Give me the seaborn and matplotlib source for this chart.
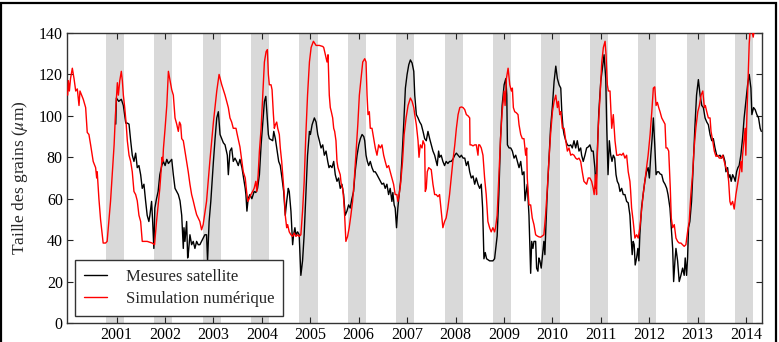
import matplotlib
matplotlib.use("Agg")
import matplotlib.pyplot as plt
import matplotlib.patches as mpatches
import seaborn as sns
import pandas as pd

# ---------------- data (decimal years, grain size in micrometres) ----------------
sim_t = [
    1999.990, 2000.004, 2000.025, 2000.049, 2000.086, 2000.121, 2000.156, 2000.189, 2000.224, 2000.244,
    2000.279, 2000.312, 2000.361, 2000.394, 2000.429, 2000.464, 2000.517, 2000.567, 2000.589, 2000.600,
    2000.635, 2000.669, 2000.723, 2000.772, 2000.805, 2000.875,
    2000.949, 2000.975, 2000.996, 2001.016, 2001.037, 2001.066, 2001.098, 2001.119, 2001.140, 2001.168,
    2001.195, 2001.222, 2001.257, 2001.291, 2001.324, 2001.359, 2001.394, 2001.427, 2001.462, 2001.497,
    2001.530, 2001.632, 2001.735, 2001.784, 2001.825, 2001.893,
    2001.940, 2001.955, 2001.967, 2002.002, 2002.037, 2002.070, 2002.104, 2002.139, 2002.172, 2002.207,
    2002.242, 2002.275, 2002.300, 2002.324, 2002.345, 2002.378, 2002.412, 2002.447, 2002.480, 2002.515,
    2002.550, 2002.583, 2002.618, 2002.653, 2002.686, 2002.720, 2002.755, 2002.788, 2002.858, 2002.926,
    2003.000, 2003.069, 2003.117, 2003.172, 2003.205, 2003.240, 2003.308, 2003.342, 2003.377, 2003.410,
    2003.466, 2003.492, 2003.548, 2003.589, 2003.616, 2003.657, 2003.685, 2003.712, 2003.739, 2003.774,
    2003.809, 2003.841, 2003.876, 2003.897, 2003.924,
    2003.950, 2003.985, 2004.020, 2004.053, 2004.088, 2004.114, 2004.135, 2004.155, 2004.190, 2004.211,
    2004.238, 2004.258, 2004.279, 2004.307, 2004.328, 2004.361, 2004.381, 2004.410, 2004.431, 2004.463,
    2004.484, 2004.513, 2004.533, 2004.566, 2004.601, 2004.636, 2004.669, 2004.704, 2004.739, 2004.771,
    2004.806, 2004.841, 2004.874, 2004.909, 2004.944,
    2004.983, 2005.018, 2005.065, 2005.120, 2005.188, 2005.258, 2005.278, 2005.311, 2005.346, 2005.367,
    2005.393, 2005.414, 2005.435, 2005.463, 2005.484, 2005.504, 2005.531, 2005.552, 2005.572, 2005.599,
    2005.619, 2005.640, 2005.669, 2005.689, 2005.710, 2005.736, 2005.771, 2005.804, 2005.839, 2005.874,
    2005.907, 2005.942,
    2005.982, 2006.014, 2006.049, 2006.084, 2006.125, 2006.152, 2006.173, 2006.193, 2006.220, 2006.240,
    2006.275, 2006.310, 2006.343, 2006.378, 2006.413, 2006.446, 2006.481, 2006.516, 2006.548, 2006.583,
    2006.618, 2006.651, 2006.686, 2006.721, 2006.754, 2006.789, 2006.809, 2006.836, 2006.865, 2006.906,
    2006.939,
    2006.979, 2007.020, 2007.047, 2007.068, 2007.103, 2007.138, 2007.158, 2007.191, 2007.226, 2007.246,
    2007.273, 2007.308, 2007.329, 2007.363, 2007.376, 2007.396, 2007.417, 2007.446, 2007.499, 2007.534,
    2007.569, 2007.602, 2007.637, 2007.671, 2007.704, 2007.739, 2007.774, 2007.807, 2007.842, 2007.877,
    2007.910, 2007.945,
    2007.985, 2008.018, 2008.053, 2008.088, 2008.121, 2008.156, 2008.191, 2008.224, 2008.259, 2008.293,
    2008.300, 2008.326, 2008.361, 2008.396, 2008.429, 2008.464, 2008.478, 2008.499, 2008.532, 2008.567,
    2008.601, 2008.634, 2008.669, 2008.704, 2008.737, 2008.772, 2008.807, 2008.827, 2008.860, 2008.895,
    2008.930, 2008.963,
    2009.004, 2009.024, 2009.051, 2009.086, 2009.121, 2009.154, 2009.174, 2009.195, 2009.223, 2009.256,
    2009.291, 2009.312, 2009.347, 2009.380, 2009.414, 2009.449, 2009.470, 2009.482, 2009.517, 2009.552,
    2009.585, 2009.620, 2009.655, 2009.688, 2009.722, 2009.757, 2009.790, 2009.825, 2009.860, 2009.893,
    2009.928, 2009.963,
    2010.002, 2010.036, 2010.071, 2010.104, 2010.125, 2010.154, 2010.174, 2010.207, 2010.242, 2010.277,
    2010.310, 2010.344, 2010.379, 2010.412, 2010.447, 2010.482, 2010.515, 2010.550, 2010.585, 2010.618,
    2010.652, 2010.708, 2010.741, 2010.776, 2010.811, 2010.844, 2010.864, 2010.893, 2010.913, 2010.926,
    2010.947,
    2010.986, 2011.021, 2011.054, 2011.089, 2011.109, 2011.136, 2011.157, 2011.191, 2011.226, 2011.259,
    2011.294, 2011.329, 2011.362, 2011.397, 2011.432, 2011.464, 2011.499, 2011.534, 2011.567, 2011.602,
    2011.616, 2011.637, 2011.670, 2011.705, 2011.740, 2011.773, 2011.807, 2011.842, 2011.875, 2011.910,
    2011.945, 2011.978,
    2012.019, 2012.054, 2012.086, 2012.115, 2012.142, 2012.169, 2012.197, 2012.224, 2012.259, 2012.292,
    2012.327, 2012.347, 2012.374, 2012.403, 2012.436, 2012.456, 2012.485, 2012.518, 2012.553, 2012.587,
    2012.620, 2012.655, 2012.690, 2012.723, 2012.758, 2012.793, 2012.826, 2012.861, 2012.895, 2012.928,
    2012.963,
    2013.004, 2013.037, 2013.072, 2013.107, 2013.140, 2013.160, 2013.189, 2013.222, 2013.257, 2013.277,
    2013.312, 2013.345, 2013.380, 2013.415, 2013.448, 2013.483, 2013.518, 2013.550, 2013.585, 2013.620,
    2013.641, 2013.667, 2013.688, 2013.723, 2013.756, 2013.791, 2013.826, 2013.858, 2013.893, 2013.914,
    2013.928, 2013.961, 2013.982, 2013.996,
    2014.018, 2014.045, 2014.066, 2014.087, 2014.121, 2014.148, 2014.162,
]
sim_v = [
    110, 117, 112, 118, 123, 118, 112, 113, 105, 112,
    110, 108, 104, 92, 91, 86, 78, 75, 70, 73,
    60, 50, 38.6, 38.6, 39.4, 58.7,
    86, 100, 108, 116, 110, 117, 121.5, 117, 110, 104,
    97, 88, 81, 78, 73, 63.5, 62, 59, 52, 49,
    39.4, 39.4, 38.6, 37.8, 49, 65,
    80, 78, 84, 94, 105, 121.5, 117, 112.6, 110, 99,
    96, 92.5, 97, 95.7, 89, 88, 83, 78, 73, 67,
    62, 59, 55.5, 52.3, 50.7, 49, 45, 47.5, 58.7, 78,
    97, 112, 120, 115, 112.6, 110, 104, 99, 97, 94,
    94, 91, 85, 78, 73, 70, 63.5, 58.7, 60, 62,
    63.5, 65, 68.4, 63.5, 71.6,
    83, 94, 110, 126, 131, 132, 120, 115, 115, 112.6,
    101, 94, 95.7, 97, 94, 91, 84.5, 78, 71.6, 62,
    52, 46, 47.5, 44, 42.6, 41.8, 43.4, 41.8, 42.6, 41.8,
    42.6, 54, 68, 91, 110,
    126, 133, 136, 134, 134, 133.5, 133, 129.5, 126, 129.5,
    110, 104, 102, 99, 94, 92.5, 88, 78, 75, 73,
    71.6, 67, 65, 60, 52, 39.4, 41.8, 46, 52, 58.7,
    68.4, 81,
    95.7, 110, 118, 126, 127.6, 126, 110, 100.6, 102, 94,
    94, 89, 84.5, 81, 86, 84.5, 86, 81, 78, 75,
    76, 73, 70, 67, 62, 62, 58.7, 62, 67, 78,
    91,
    99, 105, 107, 108.6, 107, 104, 100.6, 95.7, 88, 80,
    86, 84.5, 88, 86, 63.5, 65, 73, 75, 74, 67,
    62, 62, 61, 62, 54, 46, 49, 50.7, 55.5, 62,
    70, 78,
    86, 94, 100.6, 104, 104.3, 104, 103, 100.6, 100, 99,
    86, 86, 85.5, 86, 86, 81, 86, 86, 84.5, 81,
    70, 62, 49, 46, 44, 46, 44, 46, 52, 70,
    89, 102,
    112, 105, 118, 123, 115, 112, 113.4, 104, 102, 101.5,
    100.6, 95.7, 91, 89, 89, 81, 84.5, 70, 57, 57,
    50.7, 47.5, 42.6, 42, 41.6, 41.4, 42, 42.6, 52, 63.5,
    78, 91,
    102, 107, 110, 104, 107, 100.6, 102, 94, 94, 88,
    83, 84.5, 81, 81.5, 81, 79.6, 79, 79.6, 78, 73,
    68.4, 67, 70, 70, 68.4, 65, 62, 71.6, 62, 78,
    94,
    110, 126, 133, 136, 129.5, 115, 112, 112, 94, 100.6,
    88, 81, 81, 81.5, 81, 82, 79.6, 81, 73, 68.4,
    64, 55.5, 49, 41, 42.6, 41, 46, 54, 62, 68.4,
    75, 81,
    91, 102, 113.4, 114, 105, 106.5, 104, 102, 99, 97.5,
    96, 84.5, 84.5, 83, 65, 50.7, 46, 47.5, 41, 39.4,
    38.6, 38.6, 37.8, 37, 37.8, 44, 49, 62, 71.6, 84.5,
    94,
    102, 105, 110, 112, 104, 105, 102, 99, 99, 92.5,
    88, 83, 80.4, 81, 79.6, 79.6, 81, 78, 75, 73,
    68.4, 58.7, 57, 58.7, 55, 62, 67, 71.6, 78, 73,
    81, 89, 94, 81,
    100, 120, 135, 142, 141, 138, 140,
]

sat_t = [
    2000.983, 2000.996, 2001.045, 2001.098, 2001.140, 2001.189, 2001.222, 2001.257, 2001.291, 2001.324,
    2001.359, 2001.394, 2001.427, 2001.462, 2001.497, 2001.530, 2001.565, 2001.599, 2001.632, 2001.667,
    2001.688, 2001.723, 2001.743, 2001.770, 2001.790, 2001.825, 2001.858, 2001.893,
    2001.934, 2001.967, 2002.002, 2002.037, 2002.070, 2002.104, 2002.139, 2002.172, 2002.207, 2002.242,
    2002.275, 2002.310, 2002.345, 2002.378, 2002.392, 2002.412, 2002.447, 2002.468, 2002.480, 2002.515,
    2002.550, 2002.583, 2002.618, 2002.653, 2002.686, 2002.720, 2002.755, 2002.788, 2002.823, 2002.858,
    2002.879, 2002.911,
    2002.946, 2003.000, 2003.034, 2003.069, 2003.102, 2003.137, 2003.172, 2003.205, 2003.240, 2003.287,
    2003.308, 2003.342, 2003.377, 2003.410, 2003.445, 2003.480, 2003.513, 2003.548, 2003.589, 2003.624,
    2003.657, 2003.671, 2003.692, 2003.718, 2003.753, 2003.794, 2003.841, 2003.876, 2003.911,
    2003.950, 2003.985, 2004.020, 2004.053, 2004.082, 2004.108, 2004.135, 2004.155, 2004.190, 2004.225,
    2004.246, 2004.279, 2004.307, 2004.348, 2004.381, 2004.416, 2004.451, 2004.484, 2004.513, 2004.546,
    2004.566, 2004.601, 2004.636, 2004.656, 2004.683, 2004.704, 2004.739, 2004.771, 2004.806, 2004.841,
    2004.874, 2004.909, 2004.944,
    2004.983, 2005.003, 2005.038, 2005.085, 2005.120, 2005.155, 2005.188, 2005.223, 2005.258, 2005.291,
    2005.326, 2005.361, 2005.387, 2005.414, 2005.449, 2005.484, 2005.517, 2005.552, 2005.586, 2005.619,
    2005.654, 2005.689, 2005.722, 2005.757, 2005.792, 2005.825, 2005.860, 2005.895, 2005.927,
    2005.967, 2006.002, 2006.035, 2006.070, 2006.105, 2006.125, 2006.152, 2006.179, 2006.207, 2006.240,
    2006.275, 2006.310, 2006.343, 2006.378, 2006.413, 2006.446, 2006.481, 2006.516, 2006.548, 2006.583,
    2006.618, 2006.651, 2006.686, 2006.706, 2006.733, 2006.754, 2006.782, 2006.809, 2006.836, 2006.865,
    2006.891, 2006.926,
    2006.965, 2007.000, 2007.035, 2007.068, 2007.103, 2007.138, 2007.158, 2007.191, 2007.226, 2007.261,
    2007.294, 2007.329, 2007.363, 2007.396, 2007.431, 2007.466, 2007.499, 2007.534, 2007.569, 2007.602,
    2007.622, 2007.651, 2007.671, 2007.704, 2007.739, 2007.774, 2007.807, 2007.842, 2007.877, 2007.910,
    2007.945,
    2007.985, 2008.018, 2008.053, 2008.088, 2008.121, 2008.156, 2008.191, 2008.224, 2008.259, 2008.293,
    2008.326, 2008.361, 2008.396, 2008.429, 2008.464, 2008.499, 2008.532, 2008.560, 2008.587, 2008.614,
    2008.642, 2008.704, 2008.772, 2008.807, 2008.840, 2008.860, 2008.895, 2008.930, 2008.963,
    2009.004, 2009.039, 2009.059, 2009.072, 2009.106, 2009.141, 2009.174, 2009.209, 2009.244, 2009.277,
    2009.312, 2009.347, 2009.380, 2009.414, 2009.435, 2009.462, 2009.482, 2009.517, 2009.552, 2009.573,
    2009.599, 2009.620, 2009.655, 2009.675, 2009.702, 2009.722, 2009.743, 2009.770, 2009.798, 2009.825,
    2009.846, 2009.866, 2009.893, 2009.928, 2009.963,
    2010.002, 2010.036, 2010.071, 2010.104, 2010.139, 2010.174, 2010.195, 2010.221, 2010.242, 2010.277,
    2010.310, 2010.344, 2010.379, 2010.412, 2010.447, 2010.482, 2010.515, 2010.550, 2010.585, 2010.605,
    2010.638, 2010.673, 2010.708, 2010.741, 2010.776, 2010.811, 2010.844, 2010.878, 2010.899, 2010.913,
    2010.926, 2010.960,
    2011.000, 2011.033, 2011.068, 2011.103, 2011.124, 2011.150, 2011.177, 2011.206, 2011.232, 2011.259,
    2011.288, 2011.315, 2011.341, 2011.370, 2011.397, 2011.432, 2011.464, 2011.499, 2011.534, 2011.567,
    2011.602, 2011.623, 2011.649, 2011.670, 2011.690, 2011.711, 2011.740, 2011.766, 2011.787, 2011.807,
    2011.842, 2011.875, 2011.910, 2011.945, 2011.978,
    2012.004, 2012.033, 2012.060, 2012.086, 2012.115, 2012.142, 2012.169, 2012.197, 2012.224, 2012.259,
    2012.292, 2012.327, 2012.362, 2012.389, 2012.429, 2012.456, 2012.485, 2012.505, 2012.532, 2012.553,
    2012.587, 2012.620, 2012.655, 2012.690, 2012.723, 2012.744, 2012.772, 2012.793, 2012.813, 2012.840,
    2012.875, 2012.908, 2012.943, 2012.978,
    2013.016, 2013.051, 2013.086, 2013.119, 2013.154, 2013.189, 2013.222, 2013.257, 2013.292, 2013.325,
    2013.359, 2013.394, 2013.427, 2013.462, 2013.497, 2013.530, 2013.565, 2013.585, 2013.620, 2013.641,
    2013.667, 2013.694, 2013.723, 2013.756, 2013.776, 2013.805, 2013.832, 2013.858, 2013.893, 2013.928,
    2013.961, 2013.996,
    2014.033, 2014.066, 2014.101, 2014.121, 2014.156, 2014.189, 2014.224, 2014.259, 2014.292, 2014.316,
]
sat_v = [
    96, 108.6, 107, 108, 105, 96.5, 96.5, 96, 88, 81,
    78, 82, 75, 76, 71.6, 65, 67, 59, 52, 49,
    52, 58.7, 50, 36, 55.5, 60, 63.5, 71.6,
    76, 78, 76, 79, 77, 78, 79, 71.6, 65, 63.5,
    62, 59, 52, 36, 46, 39.4, 49, 31.4, 33, 42.6,
    37.8, 39.4, 36, 39.4, 37.8, 37.8, 39.4, 41, 42.6, 42.6,
    30, 49,
    58.7, 78, 89, 99, 102, 91, 89, 87, 86, 81,
    71.6, 83, 84.5, 78, 79.6, 78, 76, 79, 75, 70,
    65, 62, 54, 60, 62, 60, 63.5, 63, 65,
    71.6, 86, 97, 107, 109.4, 100.6, 91, 89, 88.5, 88,
    92.5, 89, 84.5, 78, 76, 70, 63.5, 52, 58.7, 65,
    63.5, 54, 37.8, 42.6, 46, 42.6, 44, 42.6, 23, 30,
    42.6, 62, 81,
    92.5, 91, 95.7, 99, 97, 91, 88, 84.5, 86, 81,
    83, 78, 75, 76, 75, 78, 71.6, 68.4, 70, 65,
    67, 62, 52, 54, 57, 55.5, 60, 63.5, 73,
    81, 86, 89, 91, 90, 88, 81, 78, 76, 78,
    75, 73, 73, 71.6, 70, 68.4, 67, 67.5, 65, 67,
    62, 65, 58.7, 63, 57, 55.5, 46, 55.5, 62, 68.4,
    78, 94,
    113.4, 120, 124.7, 127, 125.5, 121.5, 110, 100.6, 99, 97,
    95.7, 92.5, 89, 88, 92.5, 89, 86, 83, 81, 78,
    76, 83, 80, 81, 78, 76, 78, 77, 78, 78,
    79,
    81, 82, 81, 80, 81, 79.6, 79.6, 76, 78, 73,
    70, 71, 67, 70, 67, 65, 67, 55.5, 31, 34,
    31, 30, 30, 31, 38, 42, 62, 89, 105,
    115, 118, 110, 86, 84.5, 84.5, 83, 79.6, 81, 78,
    75, 78, 71.6, 73, 59, 63.5, 67, 52, 24, 39.4,
    36, 39.4, 39.4, 26.5, 25, 31.4, 30, 26.5, 33, 39.4,
    33, 46, 62, 78, 94,
    105, 116.6, 124, 118, 115, 113.4, 102, 94, 91, 88,
    86, 85.5, 86, 84.5, 88, 84.5, 88, 83, 84.5, 81,
    78, 81, 84.5, 85, 86, 83, 83, 75, 65, 71.6,
    81, 102,
    116.6, 123, 129.5, 118, 94, 71.6, 88, 81, 78, 81,
    79.6, 71.6, 68.4, 67, 63.5, 65, 62, 62, 58.7, 58,
    52, 42.6, 33, 39.4, 37.8, 28, 31.4, 36, 30, 42.6,
    55.5, 62, 68.4, 73, 75,
    70, 81, 89, 99, 86, 71.6, 73, 73, 72, 71.6,
    68.4, 67, 65, 62, 55.5, 46, 36, 20, 30, 36,
    30, 20, 23, 26.5, 23, 31.4, 23, 31.4, 46, 49,
    58.7, 75, 94, 110,
    117.5, 110, 105, 104, 99, 97, 95.7, 91, 88, 89,
    84.5, 81, 80.4, 81, 79.6, 81, 78, 73, 75, 70,
    71.6, 68.4, 71.6, 70, 68.4, 73, 75, 76, 81, 89,
    99, 107,
    115, 120, 113.4, 100.6, 104, 103, 100.6, 99, 94, 92.5,
]

# winter periods shaded in grey (one per labelled year)
winter_years = list(range(2001, 2015))
winter_start_offset = -0.225   # early October of the previous year
winter_end_offset = 0.15       # late February

year_ticks = list(range(2001, 2015))
value_ticks = list(range(0, 141, 20))

series_labels = ["Mesures satellite", "Simulation numérique"]
series_colors = ["black", "#ff0000"]

# ---------------- figure ----------------
sns.set_theme(style="ticks")
plt.rcParams["font.family"] = ["Liberation Serif", "DejaVu Serif"]
plt.rcParams["mathtext.fontset"] = "stix"

fig = plt.figure(figsize=(7.79, 3.42), dpi=100)
ax = fig.add_axes([67 / 779, 1 - 323 / 342, (762 - 67) / 779, (323 - 33) / 342])

for y in winter_years:
    ax.axvspan(y + winter_start_offset, y + winter_end_offset,
               color="#d9d9d9", lw=0, zorder=0)

df_sat = pd.DataFrame({"t": sat_t, "v": sat_v})
df_sim = pd.DataFrame({"t": sim_t, "v": sim_v})

sns.lineplot(data=df_sat, x="t", y="v", ax=ax, color=series_colors[0],
             lw=1.0, estimator=None, label=series_labels[0], zorder=2)
sns.lineplot(data=df_sim, x="t", y="v", ax=ax, color=series_colors[1],
             lw=1.0, estimator=None, label=series_labels[1], zorder=3)

ax.set_xlim(1999.976, 2014.33)
ax.set_ylim(0, 140)
ax.set_xticks(year_ticks)
ax.set_xticklabels([str(y) for y in year_ticks])
ax.set_yticks(value_ticks)
ax.set_xlabel("")
ax.set_ylabel(r"Taille des grains ($\mu$m)", fontsize=12.5, labelpad=6)

ax.tick_params(axis="both", which="both", direction="in", length=4, width=0.8,
               top=True, right=True, labelsize=11.5, colors="#222222",
               labelcolor="black", pad=3)
for s in ax.spines.values():
    s.set_color("#333333")
    s.set_linewidth(1.0)
    s.set_visible(True)

leg = ax.legend(loc="lower left", bbox_to_anchor=(0.0115, 0.024), borderaxespad=0,
                fancybox=False, frameon=True, edgecolor="#333333", framealpha=1,
                fontsize=12, handlelength=1.4, handletextpad=1.1, borderpad=0.55,
                labelspacing=0.35)
leg.get_frame().set_linewidth(1.0)

# outer figure frame
fig.add_artist(mpatches.Rectangle((0.0008, -0.1), 0.9955, 1.1 - 3 / 342,
                                  transform=fig.transFigure, fill=False,
                                  lw=1.6, ec="black"))

fig.savefig("out.png", dpi=100)
